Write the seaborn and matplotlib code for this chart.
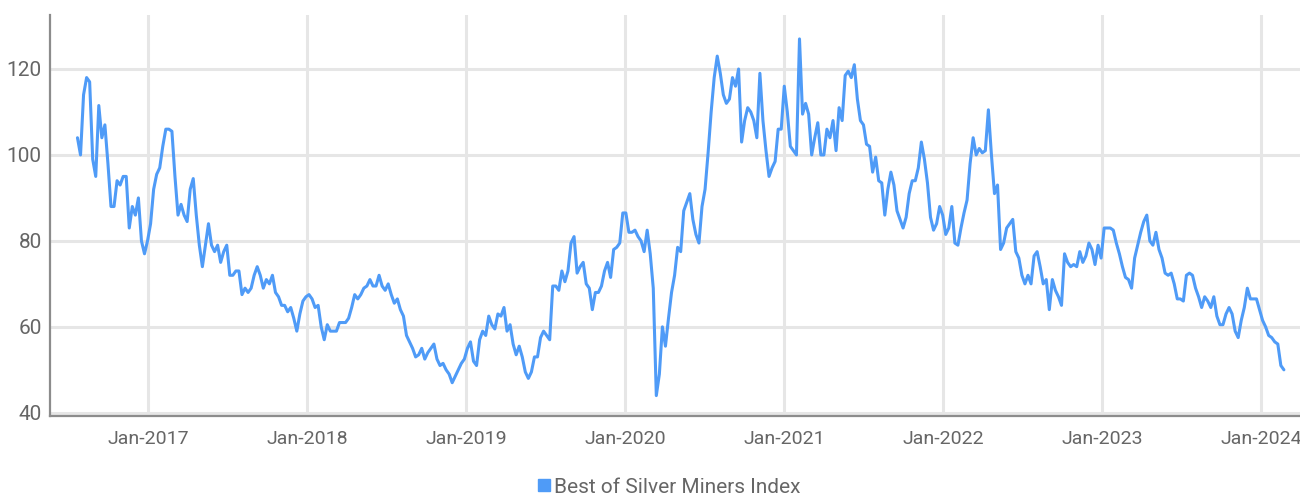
"""
Best of Silver Miners Index - weekly history chart (mid-2016 to early 2024).
"""

import matplotlib
matplotlib.use("Agg")  # headless backend
import matplotlib.pyplot as plt
import matplotlib.dates as mdates
from matplotlib.lines import Line2D
import pandas as pd
import seaborn as sns

SERIES_NAME = "Best of Silver Miners Index"
START_DATE = "2016-07-22"  # first weekly close (Friday)

# weekly closes
INDEX_VALUES = [
    104, 100, 114, 118, 117, 99, 95, 111.5, 104, 107,
    98, 88, 88, 94, 93, 95, 95, 83, 88, 86,
    90, 80, 77, 80, 84, 92, 95.5, 97, 102, 106,
    106, 105.5, 95, 86, 88.5, 86, 84.5, 92, 94.5, 86,
    79, 74, 79, 84, 79, 77.5, 79, 75, 77.5, 79,
    72, 72, 73, 73, 67.5, 69, 68, 69, 72, 74,
    72, 69, 71, 70, 72, 68, 67, 65, 65, 63.5,
    64.5, 62, 59, 63, 66, 67, 67.5, 66.5, 64.5, 65,
    60, 57, 60.5, 59, 59, 59, 61, 61, 61, 62,
    64.5, 67.5, 66.5, 67.5, 69, 69.5, 71, 69.5, 69.5, 72,
    69.5, 68.5, 70, 67.5, 65.5, 66.5, 64, 62.5, 58, 56.5,
    55, 53, 53.5, 55, 52.5, 54, 55, 56, 52.5, 51,
    51.5, 50, 49, 47, 48.5, 50, 51.5, 52.5, 55, 56.5,
    52, 51, 57, 59, 58, 62.5, 60.5, 59.5, 63, 62.5,
    64.5, 59, 60.5, 56, 53.5, 55.5, 53, 49.5, 48, 49.5,
    53, 53, 57.5, 59, 58, 57, 69.5, 69.5, 68.5, 73,
    70.5, 73, 79.5, 81, 72.5, 74, 75, 70, 69, 64,
    68, 68, 69.5, 73, 75, 71.5, 78, 78.5, 79.5, 86.5,
    86.5, 82, 82, 82.5, 81, 80, 77.5, 82.5, 77, 69,
    44, 49, 60, 55.5, 62, 68, 72, 78.5, 77.5, 87,
    89, 91, 85, 81.5, 79.5, 88, 92, 100.5, 110, 118,
    123, 119, 114, 112, 113, 118, 116, 120, 103, 108,
    111, 110, 108, 104, 119, 108, 101, 95, 97, 98.5,
    106, 106, 116, 110, 102, 101, 100, 127, 109.5, 112,
    109.5, 100, 104, 107.5, 100, 100, 106, 104, 108, 101,
    111, 108, 118.5, 119.5, 118, 121, 113, 108, 107, 102.5,
    102, 96, 99.5, 94, 93.5, 86, 92, 96, 93, 87,
    85, 83, 85.5, 91, 94, 94, 97, 103, 99, 93.5,
    85.5, 82.5, 84, 88, 86, 81.5, 83, 88, 79.5, 79,
    83, 86.5, 89.5, 98, 104, 100, 101.5, 100.5, 101, 110.5,
    100, 91, 93, 78, 79.5, 83, 84, 85, 77.5, 76,
    72, 70, 72, 70, 76.5, 77.5, 74, 70, 71, 64,
    71, 68.5, 67, 65, 77, 75, 74, 74.5, 74, 77.5,
    75, 76.5, 79.5, 78, 74.5, 79, 76, 83, 83, 83,
    82.5, 79.5, 77, 74, 71.5, 71, 69, 76, 79, 82,
    84.5, 86, 80, 79, 82, 78, 76, 72.5, 72, 72.5,
    70, 66.5, 66.5, 66, 72, 72.5, 72, 69, 67, 64.5,
    67, 66, 64.5, 67, 62.5, 60.5, 60.5, 63, 64.5, 63,
    59, 57.5, 61.5, 64.5, 69, 66.5, 66.5, 66.5, 64, 61.5,
    60, 58, 57.5, 56.5, 56, 51, 50,
]

TICK_YEARS = [2017, 2018, 2019, 2020, 2021, 2022, 2023, 2024]
Y_TICKS = [40, 60, 80, 100, 120]

LINE_COLOR = "#4f9bf7"
TEXT_COLOR = "#666666"
GRID_COLOR = "#e6e6e6"
SPINE_COLOR = "#8c8c8c"


def plot_index_history(out_path: str = "out.png") -> None:
    """Draws the weekly index line with a year grid and a bottom legend."""
    df = pd.DataFrame({
        "date": pd.date_range(START_DATE, periods=len(INDEX_VALUES), freq="W-FRI"),
        "value": INDEX_VALUES,
    })

    sns.set_theme(style="white")
    plt.rcParams["font.family"] = ["Roboto", "DejaVu Sans"]

    fig = plt.figure(figsize=(13, 4.95), dpi=100)
    ax = fig.add_axes([0.0385, 0.16, 0.9615, 0.81])

    sns.lineplot(data=df, x="date", y="value", ax=ax, color=LINE_COLOR, linewidth=2.2)

    ax.set_xlim(pd.Timestamp("2016-05-20"), pd.Timestamp("2024-03-31"))
    ax.set_ylim(39.3, 132.6)
    ax.set_xticks([pd.Timestamp(f"{y}-01-01") for y in TICK_YEARS])
    ax.xaxis.set_major_formatter(mdates.DateFormatter("%b-%Y"))
    ax.set_yticks(Y_TICKS)
    ax.set_xlabel("")
    ax.set_ylabel("")

    ax.grid(True, color=GRID_COLOR, linewidth=2.2)
    ax.set_axisbelow(True)
    for side in ["top", "right"]:
        ax.spines[side].set_visible(False)
    for side in ["left", "bottom"]:
        ax.spines[side].set_color(SPINE_COLOR)
        ax.spines[side].set_linewidth(1.6)

    ax.tick_params(axis="y", length=0, pad=6, labelsize=15, labelcolor=TEXT_COLOR)
    ax.tick_params(axis="x", length=0, pad=10, labelsize=14, labelcolor=TEXT_COLOR)

    handle = Line2D([], [], marker="s", linestyle="none", color=LINE_COLOR, markersize=8)
    fig.legend(
        [handle], [SERIES_NAME],
        loc="center", bbox_to_anchor=(0.514, 0.016),
        frameon=False, handletextpad=0.05, handlelength=0.8,
        fontsize=15, labelcolor=TEXT_COLOR,
    )

    fig.savefig(out_path, dpi=100)
    plt.close(fig)


if __name__ == "__main__":
    plot_index_history()
